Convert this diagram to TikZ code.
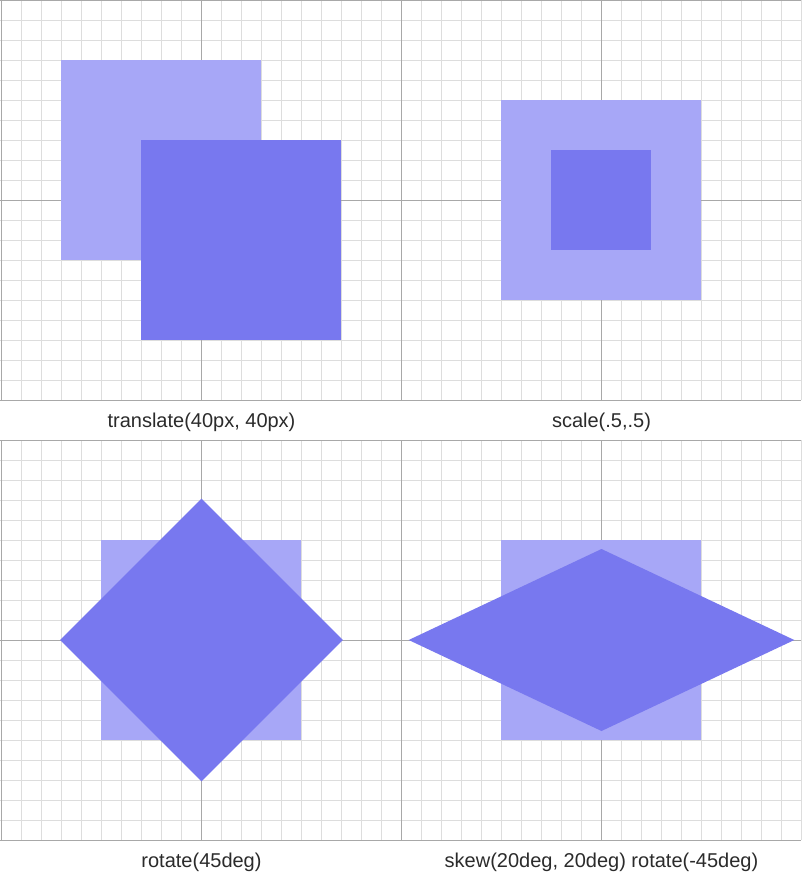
\documentclass[tikz,border=0pt]{standalone}
\usepackage{fontspec}
\setmainfont{Liberation Sans}
\definecolor{gridlight}{HTML}{DDDDDD}
\definecolor{griddark}{HTML}{A8A8A8}
\definecolor{shapelight}{HTML}{A7A7F7}
\definecolor{shapedark}{HTML}{7878EF}
\definecolor{labeltext}{HTML}{2B2B2B}
\tikzset{
  minorline/.style={draw=gridlight, line width=1pt},
  majorline/.style={draw=griddark, line width=1pt},
  origbox/.style={fill=shapelight},
  transbox/.style={fill=shapedark},
  caption/.style={anchor=base, text=labeltext, font=\fontsize{20}{22}\selectfont, inner sep=0pt}
}
\begin{document}
\begin{tikzpicture}[x=1pt,y=-1pt]
\useasboundingbox[fill=white] (0,0) rectangle (801,880);
% grids for both panel rows
\foreach \top in {0,440}{
  \foreach \i in {0,...,40}{
    \pgfmathsetmacro{\xx}{1.5+20*\i}
    \draw[minorline] (\xx,\top) -- (\xx,\top+400);
  }
  \foreach \j in {0,...,20}{
    \pgfmathsetmacro{\yy}{\top+0.5+20*\j}
    \draw[minorline] (0,\yy) -- (801,\yy);
  }
  \foreach \xx in {1.5,201.5,401.5,601.5}{
    \draw[majorline] (\xx,\top) -- (\xx,\top+400);
  }
  \foreach \yy in {0.5,200.5,400.5}{
    \draw[majorline] (0,\top+\yy) -- (801,\top+\yy);
  }
}
% translate
\fill[origbox] (61,60) rectangle (261,260);
\fill[transbox] (141,140) rectangle (341,340);
% scale
\fill[origbox] (501,100) rectangle (701,300);
\fill[transbox] (551,150) rectangle (651,250);
% rotate
\fill[origbox] (101,540) rectangle (301,740);
\fill[transbox] (201.5,498.6) -- (342.9,640) -- (201.5,781.4) -- (60.1,640) -- cycle;
% skew + rotate
\fill[origbox] (501,540) rectangle (701,740);
\fill[transbox] (408.7,640) -- (601.5,549) -- (794.3,640) -- (601.5,731) -- cycle;
% labels
\node[caption] (l1) at (201.5,427) {translate(40px, 40px)};
\node[caption] (l2) at (601.5,427) {scale(.5,.5)};
\node[caption] (l3) at (201.5,867) {rotate(45deg)};
\node[caption] (l4) at (601.5,867) {skew(20deg, 20deg) rotate(-45deg)};
\end{tikzpicture}
\end{document}
